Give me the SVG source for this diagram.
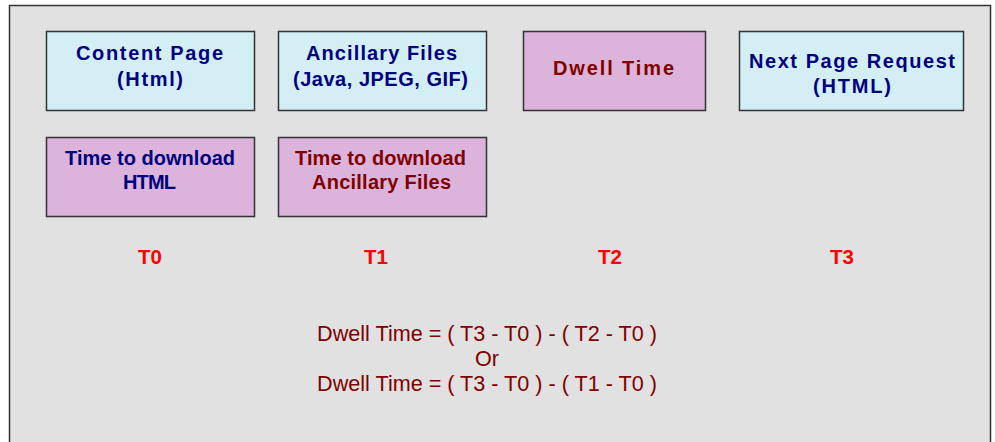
<svg xmlns="http://www.w3.org/2000/svg" width="995" height="442" viewBox="0 0 995 442">
<style>
.box{stroke:#333;stroke-width:1.5}
.cy{fill:#d3eef4}
.pk{fill:#dbb3db}
.t{font-family:"Liberation Sans",Arial,sans-serif;font-weight:bold;font-size:20px;text-anchor:middle}
.nv{fill:#000080}
.dr{fill:#800000}
.tl{font-family:"Liberation Sans",Arial,sans-serif;font-weight:bold;font-size:20.5px;text-anchor:middle;fill:#ff0000}
.f{font-family:"Liberation Sans",Arial,sans-serif;font-size:21.6px;text-anchor:middle;fill:#800000}
</style>
<rect x="0" y="0" width="995" height="442" fill="#ffffff"/>
<rect x="9.5" y="5.5" width="981" height="445" fill="#e1e1e1" stroke="#333" stroke-width="1.5"/>
<g id="content-page">
<rect class="box cy" x="46.5" y="31.5" width="208" height="79"/>
<text class="t nv" x="149.5" y="60" textLength="147" lengthAdjust="spacing">Content Page</text>
<text class="t nv" x="150" y="86" textLength="66" lengthAdjust="spacing">(Html)</text>
</g>
<g id="ancillary-files">
<rect class="box cy" x="278.5" y="31.5" width="208" height="79"/>
<text class="t nv" x="381.5" y="60" textLength="151" lengthAdjust="spacing">Ancillary Files</text>
<text class="t nv" x="380.5" y="86" textLength="175" lengthAdjust="spacing">(Java, JPEG, GIF)</text>
</g>
<g id="dwell-time">
<rect class="box pk" x="523.5" y="31.5" width="182" height="79"/>
<text class="t dr" x="613.5" y="75" textLength="121" lengthAdjust="spacing">Dwell Time</text>
</g>
<g id="next-page">
<rect class="box cy" x="739.5" y="31.5" width="224" height="79"/>
<text class="t nv" x="852" y="68" textLength="206" lengthAdjust="spacing">Next Page Request</text>
<text class="t nv" x="852" y="93" textLength="78" lengthAdjust="spacing">(HTML)</text>
</g>
<g id="download-html">
<rect class="box pk" x="46.5" y="137.5" width="208" height="79"/>
<text class="t nv" x="150" y="165" textLength="170" lengthAdjust="spacing">Time to download</text>
<text class="t nv" x="149.5" y="189" textLength="53" lengthAdjust="spacing">HTML</text>
</g>
<g id="download-ancillary">
<rect class="box pk" x="278.5" y="137.5" width="208" height="79"/>
<text class="t dr" x="380.5" y="165" textLength="171" lengthAdjust="spacing">Time to download</text>
<text class="t dr" x="381.5" y="189" textLength="139" lengthAdjust="spacing">Ancillary Files</text>
</g>
<g id="labels">
<text class="tl" x="150" y="264">T0</text>
<text class="tl" x="376" y="264">T1</text>
<text class="tl" x="610" y="264">T2</text>
<text class="tl" x="842" y="264">T3</text>
</g>
<g id="formula">
<text class="f" x="487" y="341">Dwell Time = ( T3 - T0 ) - ( T2 - T0 )</text>
<text class="f" x="487" y="366">Or</text>
<text class="f" x="487" y="391">Dwell Time = ( T3 - T0 ) - ( T1 - T0 )</text>
</g>
<g id="connectors"></g>
</svg>
